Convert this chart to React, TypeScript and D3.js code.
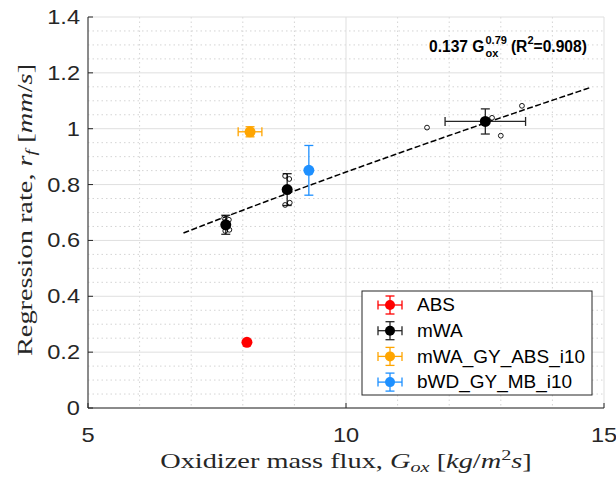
import React from 'react';
import * as d3 from 'd3';

// ---- data ----
const groupNames = ['ABS', 'mWA', 'mWA_GY_ABS_i10', 'bWD_GY_MB_i10'];
const groupColors = ['#ff0000', '#000000', '#ffa500', '#1e90ff'];
const barColors = ['#ff0000', '#262626', '#ffa500', '#1e90ff'];

// mean points with error bars
const meanGroup = [0, 1, 1, 1, 2, 3];
const meanX = [8.08, 7.67, 8.86, 12.7, 8.14, 9.28];
const meanY = [0.235, 0.656, 0.782, 1.026, 0.989, 0.851];
const meanXErr = [0.0, 0.02, 0.02, 0.78, 0.23, 0.0];
const meanYErr = [0.0, 0.034, 0.057, 0.045, 0.018, 0.089];

// individual test points (open circles)
const rawX = [7.64, 7.73, 7.66, 7.74, 8.82, 8.9, 8.82, 8.91, 11.57, 12.83, 13.0, 13.41];
const rawY = [0.681, 0.674, 0.634, 0.638, 0.831, 0.82, 0.727, 0.735, 1.004, 1.039, 0.975, 1.082];

// power-law fit r = a * G^n
const fitA = 0.137;
const fitN = 0.79;
const fitR2 = 0.908;
const fitRange = [6.85, 14.75];

const xTicks = [5, 10, 15];
const xTickLabels = ['5', '10', '15'];
const yTicks = [0, 0.2, 0.4, 0.6, 0.8, 1.0, 1.2, 1.4];
const yTickLabels = ['0', '0.2', '0.4', '0.6', '0.8', '1', '1.2', '1.4'];

const W = 616, H = 478;
const L = 88, R = 604, T = 17, B = 408;
const SANS = '"Liberation Sans", Arial, Helvetica, sans-serif';
const SERIF = '"Liberation Serif", "Times New Roman", serif';
const TICK_SX = 1.18;
const LEG_SX = 1.085;
const LAB_SX = 1.35;

export default function App() {
  const x = d3.scaleLinear().domain([5, 15]).range([L, R]);
  const y = d3.scaleLinear().domain([0, 1.4]).range([B, T]);

  const xMinor = d3.range(5, 15.001, 1).filter((v) => !xTicks.includes(v));
  const yMinor = d3.range(0, 1.4001, 0.05).filter((v) => Math.abs(v / 0.2 - Math.round(v / 0.2)) > 1e-6);

  const fitPts = d3.range(fitRange[0], fitRange[1] + 1e-9, 0.05).map((g) => [g, fitA * Math.pow(g, fitN)] as [number, number]);
  const line = d3.line<[number, number]>().x((d) => x(d[0])).y((d) => y(d[1]));

  const cap = 4.5;
  const r = 5.5;
  const supFs = 11;
  const supW = 1.946 * supFs; // width of "0.79" in bold sans
  const subW = 1.167 * supFs; // width of "ox" in bold sans

  return (
    <svg width={W} height={H} style={{ position: 'absolute', left: 0, top: 0, background: '#fff' }}>
      <rect x={0} y={0} width={W} height={H} fill="#fff" />
      {/* minor grid */}
      {xMinor.map((v, i) => (
        <line key={'xm' + i} x1={x(v)} x2={x(v)} y1={T} y2={B} stroke="#d4d4d4" strokeWidth={1} strokeDasharray="1.5,3" />
      ))}
      {yMinor.map((v, i) => (
        <line key={'ym' + i} x1={L} x2={R} y1={y(v)} y2={y(v)} stroke="#d4d4d4" strokeWidth={1} strokeDasharray="1.5,3" />
      ))}
      {/* major grid */}
      {xTicks.map((v, i) => (
        <line key={'xg' + i} x1={x(v)} x2={x(v)} y1={T} y2={B} stroke="#dfdfdf" strokeWidth={1} />
      ))}
      {yTicks.map((v, i) => (
        <line key={'yg' + i} x1={L} x2={R} y1={y(v)} y2={y(v)} stroke="#dfdfdf" strokeWidth={1} />
      ))}

      {/* axes */}
      <line x1={L} x2={L} y1={T} y2={B} stroke="#262626" strokeWidth={1} />
      <line x1={L} x2={R} y1={B} y2={B} stroke="#262626" strokeWidth={1} />
      {yTicks.map((v, i) => (
        <g key={'yt' + i}>
          <line x1={L} x2={L + 5} y1={y(v)} y2={y(v)} stroke="#262626" strokeWidth={1} />
          <text transform={`translate(${L - 8},${y(v)}) scale(${TICK_SX},1)`} dy="0.35em" textAnchor="end" fontFamily={SANS} fontSize={20} fill="#262626">
            {yTickLabels[i]}
          </text>
        </g>
      ))}
      {xTicks.map((v, i) => (
        <g key={'xt' + i}>
          <line x1={x(v)} x2={x(v)} y1={B} y2={B - 5} stroke="#262626" strokeWidth={1} />
          <text transform={`translate(${x(v)},441.5) scale(${TICK_SX},1)`} textAnchor="middle" fontFamily={SANS} fontSize={20} fill="#262626">
            {xTickLabels[i]}
          </text>
        </g>
      ))}

      {/* axis labels */}
      <text transform={`translate(346,468) scale(${LAB_SX},1)`} textAnchor="middle" fontFamily={SERIF} fontSize={21} fill="#262626">
        Oxidizer mass flux, <tspan fontStyle="italic">G</tspan>
        <tspan fontStyle="italic" fontSize={15} dy={4}>ox</tspan>
        <tspan dy={-4}> [</tspan>
        <tspan fontStyle="italic">kg</tspan>/<tspan fontStyle="italic">m</tspan>
        <tspan fontSize={15} dy={-8}>2</tspan>
        <tspan fontStyle="italic" dy={8}>s</tspan>]
      </text>
      <text
        transform={`translate(32,210) rotate(-90) scale(${LAB_SX},1)`}
        textAnchor="middle"
        fontFamily={SERIF}
        fontSize={21}
        fill="#262626"
      >
        Regression rate, <tspan fontStyle="italic">r</tspan>
        <tspan fontStyle="italic" fontSize={15} dy={4}>f</tspan>
        <tspan dy={-4}> [</tspan>
        <tspan fontStyle="italic">mm</tspan>/<tspan fontStyle="italic">s</tspan>]
      </text>

      {/* fit line */}
      <path d={line(fitPts) || ''} fill="none" stroke="#000" strokeWidth={1.5} strokeDasharray="6,2.5" />

      {/* error bars and markers */}
      {meanX.map((mx, i) => {
        const g = meanGroup[i];
        const c = barColors[g];
        const cx = x(mx), cy = y(meanY[i]);
        const x0 = x(mx - meanXErr[i]), x1 = x(mx + meanXErr[i]);
        const y0 = y(meanY[i] - meanYErr[i]), y1 = y(meanY[i] + meanYErr[i]);
        return (
          <g key={'m' + i} stroke={c} strokeWidth={1.3}>
            <line x1={x0} x2={x1} y1={cy} y2={cy} />
            <line x1={x0} x2={x0} y1={cy - cap} y2={cy + cap} />
            <line x1={x1} x2={x1} y1={cy - cap} y2={cy + cap} />
            <line x1={cx} x2={cx} y1={y0} y2={y1} />
            <line x1={cx - cap} x2={cx + cap} y1={y0} y2={y0} />
            <line x1={cx - cap} x2={cx + cap} y1={y1} y2={y1} />
          </g>
        );
      })}
      {rawX.map((v, i) => (
        <circle key={'r' + i} cx={x(v)} cy={y(rawY[i])} r={2.4} fill="none" stroke="#000" strokeWidth={0.9} />
      ))}
      {meanX.map((mx, i) => (
        <circle key={'c' + i} cx={x(mx)} cy={y(meanY[i])} r={r} fill={groupColors[meanGroup[i]]} />
      ))}

      {/* fit annotation */}
      <text x={429} y={52} fontFamily={SANS} fontWeight="bold" fontSize={15.6} fill="#000">
        {fitA.toFixed(3)} G
        <tspan fontSize={supFs} dx={1} dy={-8}>{fitN.toFixed(2)}</tspan>
        <tspan fontSize={supFs} dx={-supW} dy={13}>ox</tspan>
        <tspan dx={supW - subW + 4} dy={-5}>(R</tspan>
        <tspan fontSize={supFs} dy={-8}>2</tspan>
        <tspan dy={8}>={fitR2.toFixed(3)})</tspan>
      </text>

      {/* legend */}
      <rect x={362} y={291} width={230} height={104} fill="#fff" stroke="#262626" strokeWidth={1} />
      {groupNames.map((name, i) => {
        const ly = 305 + i * 25.7;
        const lx = 390;
        const c = barColors[i];
        return (
          <g key={'lg' + i}>
            <g stroke={c} strokeWidth={1.3}>
              <line x1={lx - 12} x2={lx + 12} y1={ly} y2={ly} />
              <line x1={lx - 12} x2={lx - 12} y1={ly - cap} y2={ly + cap} />
              <line x1={lx + 12} x2={lx + 12} y1={ly - cap} y2={ly + cap} />
              <line x1={lx} x2={lx} y1={ly - 9} y2={ly + 9} />
              <line x1={lx - cap} x2={lx + cap} y1={ly - 9} y2={ly - 9} />
              <line x1={lx - cap} x2={lx + cap} y1={ly + 9} y2={ly + 9} />
            </g>
            <circle cx={lx} cy={ly} r={5} fill={groupColors[i]} />
            <text transform={`translate(417,${ly}) scale(${LEG_SX},1)`} dy="0.35em" fontFamily={SANS} fontSize={17.5} fill="#000">
              {name}
            </text>
          </g>
        );
      })}
    </svg>
  );
}
